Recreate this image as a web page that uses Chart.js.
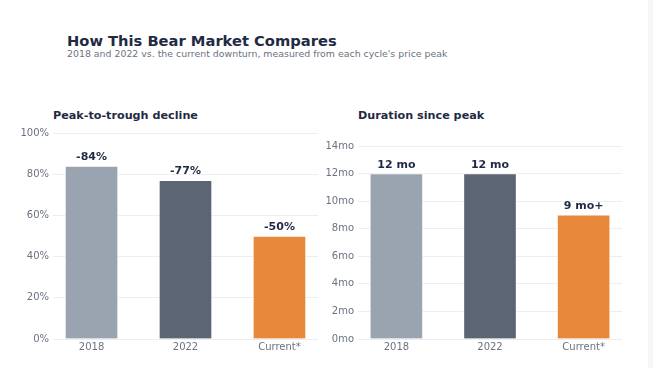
<!DOCTYPE html>
<html>
<head>
<meta charset="utf-8">
<script src="https://cdn.jsdelivr.net/npm/chart.js@4.4.1/dist/chart.umd.min.js"></script>
<style>
  body { margin: 0; width: 653px; height: 368px; background: #fff; font-family: "DejaVu Sans", sans-serif; position: relative; overflow: hidden; }
  #edge { position: absolute; right: 0; top: 0; width: 5px; height: 368px; background: #f6f6f6; }
  .title { position: absolute; left: 67px; top: 32px; font-size: 14.7px; font-weight: bold; color: #1f2a44; }
  .subtitle { position: absolute; left: 67px; top: 48px; font-size: 9.4px; color: #6b7280; }
  .panel-title { position: absolute; top: 109px; font-size: 11.2px; font-weight: bold; color: #1f2a44; }
  .box { position: absolute; top: 123px; width: 325px; height: 236px; }
</style>
</head>
<body>
<div id="edge"></div>
<div class="title">How This Bear Market Compares</div>
<div class="subtitle">2018 and 2022 vs. the current downturn, measured from each cycle's price peak</div>

<div class="panel-title" style="left:53px">Peak-to-trough decline</div>
<div class="panel-title" style="left:358px">Duration since peak</div>

<div class="box" style="left:0px"><canvas id="declineChart"></canvas></div>
<div class="box" style="left:305px"><canvas id="durationChart"></canvas></div>

<script>
// data
const cycles = ['2018', '2022', 'Current*'];
const declinePct = [84, 77, 50];
const declineLabels = ['-84%', '-77%', '-50%'];
const durationMonths = [12, 12, 9];
const durationLabels = ['12 mo', '12 mo', '9 mo+'];
const barColors = ['#9aa4b0', '#5b6573', '#e8883a'];

// value labels above each bar
const barLabels = {
    id: 'barLabels',
    afterDatasetsDraw(chart, args, opts) {
        const ctx = chart.ctx;
        const bars = chart.getDatasetMeta(0).data;
        ctx.save();
        ctx.font = 'bold 11px "DejaVu Sans"';
        ctx.fillStyle = '#1f2a44';
        ctx.textAlign = 'center';
        ctx.textBaseline = 'alphabetic';
        bars.forEach((bar, i) => {
            ctx.fillText(opts.texts[i], bar.x, bar.y - 6);
        });
        ctx.restore();
    }
};

function makeChart(id, values, texts, max, step, unit, padTop, padRight) {
    // bars sit on a numeric x axis (0,1,2) so the outer margins can be narrower than half a slot
    const points = values.map((v, i) => ({ x: i, y: v }));
    return new Chart(document.getElementById(id), {
        type: 'bar',
        data: {
            datasets: [{
                data: points,
                backgroundColor: barColors,
                borderColor: 'rgba(255,255,255,0.5)',
                borderWidth: 1,
                barThickness: 53
            }]
        },
        options: {
            responsive: true,
            maintainAspectRatio: false,
            animation: false,
            layout: { padding: { top: padTop, right: padRight, left: 0, bottom: 0 } },
            plugins: {
                legend: { display: false },
                tooltip: { enabled: false },
                barLabels: { texts: texts }
            },
            scales: {
                x: {
                    type: 'linear',
                    min: -0.41,
                    max: cycles.length - 1 + 0.41,
                    offset: false,
                    grid: { display: false, drawTicks: false },
                    border: { display: false },
                    afterBuildTicks: s => { s.ticks = cycles.map((c, i) => ({ value: i })); },
                    ticks: {
                        padding: 2,
                        color: '#6b7280',
                        font: { family: 'DejaVu Sans', size: 10 },
                        callback: v => cycles[v]
                    },
                    afterFit: s => { s.height = 20; }
                },
                y: {
                    min: 0,
                    max: max,
                    border: { display: false },
                    grid: { color: '#eceef2', drawTicks: false },
                    ticks: {
                        stepSize: step,
                        padding: 4,
                        color: '#6b7280',
                        font: { family: 'DejaVu Sans', size: 10 },
                        callback: v => v + unit
                    },
                    afterFit: s => { s.width = 53; }
                }
            }
        },
        plugins: [barLabels]
    });
}

makeChart('declineChart', declinePct, declineLabels, 100, 20, '%', 9, 7);
makeChart('durationChart', durationMonths, durationLabels, 14, 2, 'mo', 23, 8);
</script>
</body>
</html>
